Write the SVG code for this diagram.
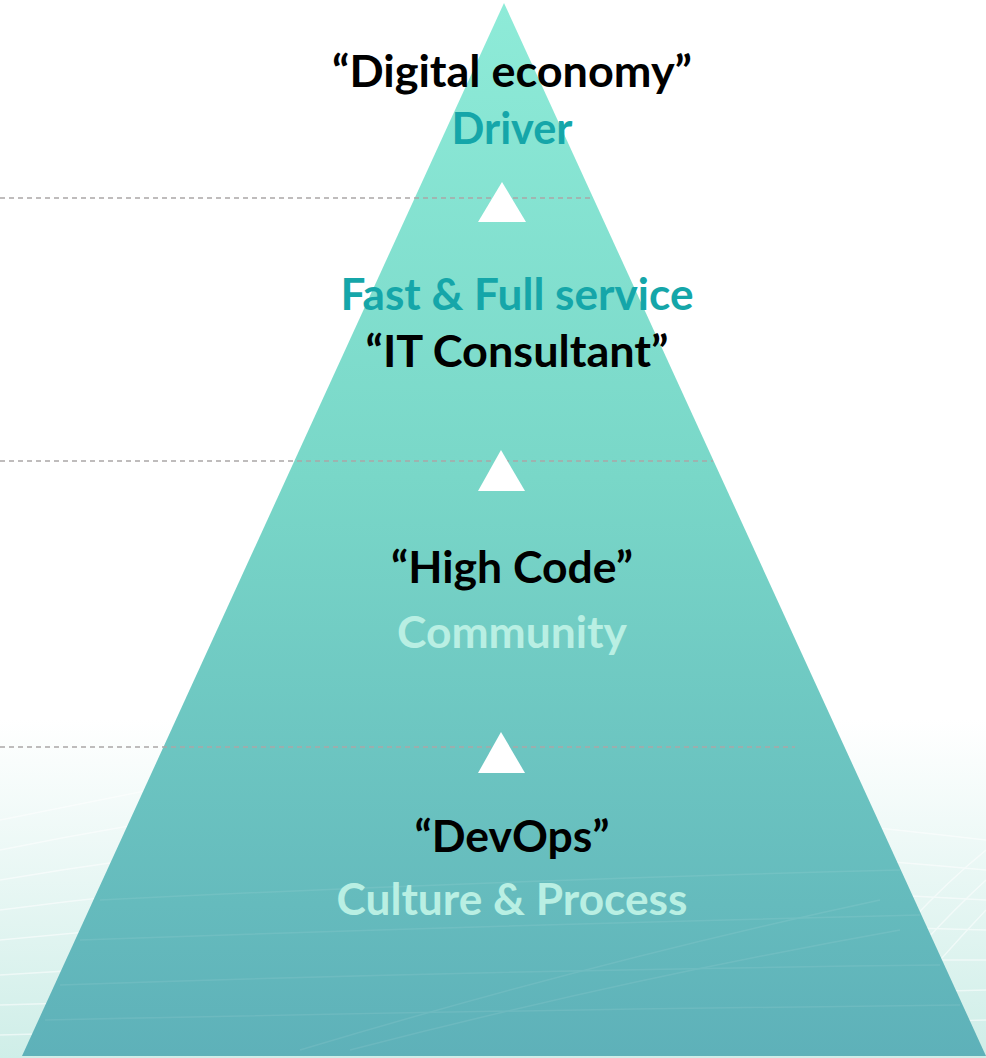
<svg xmlns="http://www.w3.org/2000/svg" width="986" height="1058" viewBox="0 0 986 1058">
<defs>
<linearGradient id="bg" x1="0" y1="0" x2="0" y2="1">
<stop offset="0" stop-color="#ffffff"/>
<stop offset="0.68" stop-color="#ffffff"/>
<stop offset="1" stop-color="#cfeee8"/>
</linearGradient>
<linearGradient id="tri" x1="0" y1="0" x2="0" y2="1">
<stop offset="0" stop-color="#8eebd8"/>
<stop offset="0.45" stop-color="#79d7c8"/>
<stop offset="1" stop-color="#5eb1b9"/>
</linearGradient>
<style>
.t{font-family:"Lato","Liberation Sans",sans-serif;font-weight:bold;font-size:43px;text-anchor:middle}
.blk{fill:#000000}
.teal{fill:#15a6a9}
.lite{fill:#b9efe3}
.dash{stroke:#aaa6a6;stroke-width:1.3;stroke-dasharray:5 4;fill:none}
.wave{stroke:#ffffff;fill:none;stroke-width:1.5}
.up{fill:#ffffff}
</style>
</defs>
<rect x="0" y="0" width="986" height="1058" fill="url(#bg)"/>
<g id="background-waves" opacity="0.55">
<path class="wave" d="M0 820 Q150 790 300 760"/>
<path class="wave" d="M0 850 Q150 820 300 800"/>
<path class="wave" d="M0 880 Q150 855 300 840"/>
<path class="wave" d="M0 910 Q150 890 300 880"/>
<path class="wave" d="M0 940 Q150 925 300 915"/>
<path class="wave" d="M0 975 Q150 965 300 960"/>
<path class="wave" d="M0 1005 Q150 1000 300 998"/>
<path class="wave" d="M0 1035 Q150 1030 300 1030"/>
<path class="wave" d="M986 840 Q900 830 800 820"/>
<path class="wave" d="M986 870 Q900 862 800 855"/>
<path class="wave" d="M986 900 Q900 895 800 890"/>
<path class="wave" d="M986 930 Q900 928 800 925"/>
<path class="wave" d="M986 960 Q900 960 800 960"/>
<path class="wave" d="M986 990 Q900 992 800 995"/>
<path class="wave" d="M986 1020 Q900 1022 800 1025"/>
<path class="wave" d="M986 850 Q900 920 800 1055"/>
<path class="wave" d="M986 880 Q910 950 830 1055"/>
<path class="wave" d="M986 910 Q920 980 860 1055"/>
</g>
<g id="pyramid">
<polygon points="504,3 22,1056 986,1056" fill="url(#tri)"/>
<g opacity="0.08">
<path class="wave" d="M100 900 Q500 880 900 870"/>
<path class="wave" d="M80 940 Q500 925 920 915"/>
<path class="wave" d="M60 985 Q500 970 940 965"/>
<path class="wave" d="M45 1020 Q500 1010 960 1005"/>
<path class="wave" d="M300 1050 Q600 960 880 900"/>
<path class="wave" d="M350 1050 Q620 980 900 930"/>
</g>
</g>
<g id="connectors">
<line class="dash" x1="0" y1="198" x2="593" y2="198"/>
<line class="dash" x1="0" y1="461" x2="713" y2="461"/>
<line class="dash" x1="0" y1="747" x2="795" y2="747"/>
</g>
<g id="arrow-1"><polygon class="up" points="502,182 478,222 526,222"/></g>
<g id="arrow-2"><polygon class="up" points="501,450 478,491 525,491"/></g>
<g id="arrow-3"><polygon class="up" points="501,732 478,773 525,773"/></g>
<g id="level-top">
<text class="t blk" x="512" y="87" textLength="360" lengthAdjust="spacingAndGlyphs">“Digital economy”</text>
<text class="t teal" x="512" y="144" textLength="121" lengthAdjust="spacingAndGlyphs">Driver</text>
</g>
<g id="level-2">
<text class="t teal" x="517" y="310" textLength="353" lengthAdjust="spacingAndGlyphs">Fast &amp; Full service</text>
<text class="t blk" x="517" y="367" textLength="303" lengthAdjust="spacingAndGlyphs">“IT Consultant”</text>
</g>
<g id="level-3">
<text class="t blk" x="512" y="583" textLength="242" lengthAdjust="spacingAndGlyphs">“High Code”</text>
<text class="t lite" x="512" y="648" textLength="230" lengthAdjust="spacingAndGlyphs">Community</text>
</g>
<g id="level-4">
<text class="t blk" x="512" y="852" textLength="195" lengthAdjust="spacingAndGlyphs">“DevOps”</text>
<text class="t lite" x="512" y="915" textLength="351" lengthAdjust="spacingAndGlyphs">Culture &amp; Process</text>
</g>
</svg>
